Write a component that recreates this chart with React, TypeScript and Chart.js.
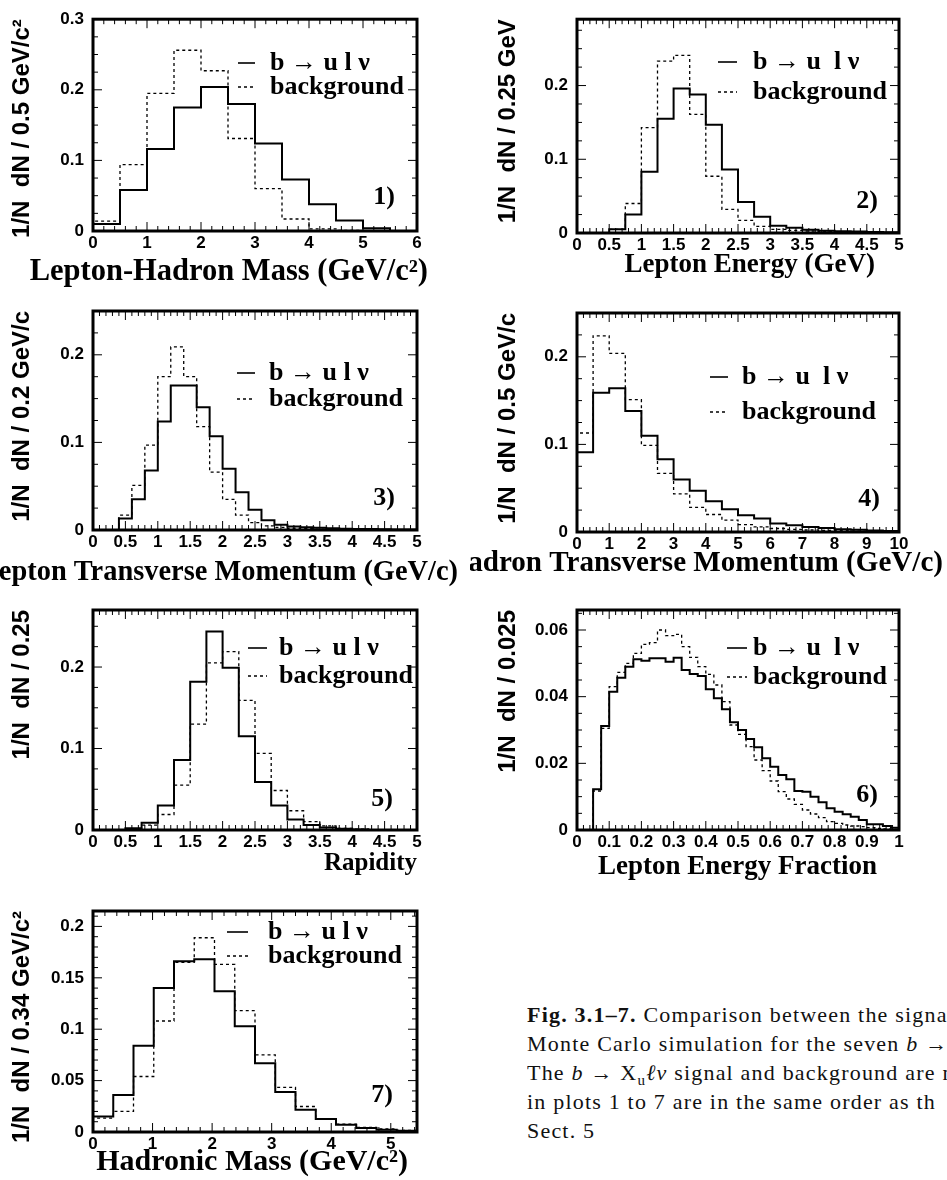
import React, { useEffect, useRef } from 'react';
import { Chart, registerables } from 'chart.js';

Chart.register(...registerables);

// ---------- DATA (bin contents) ----------
// 1) Lepton-Hadron Mass, bins of 0.5 GeV/c^2 starting at 0
const lhMassSignal = [0.010, 0.058, 0.116, 0.175, 0.204, 0.180, 0.124, 0.073, 0.038, 0.015, 0.004, 0.000];
const lhMassBackground = [0.014, 0.094, 0.195, 0.256, 0.227, 0.131, 0.060, 0.017, 0.003, 0.001, 0.000, 0.000];

// 2) Lepton Energy, bins of 0.25 GeV starting at 0
const lepEnergySignal = [0, 0, 0.005, 0.025, 0.083, 0.155, 0.196, 0.188, 0.147, 0.086, 0.042, 0.022, 0.010, 0.007, 0.0045, 0.003, 0.0025, 0.002, 0.0015, 0.001];
const lepEnergyBackground = [0, 0, 0.005, 0.040, 0.143, 0.233, 0.241, 0.161, 0.077, 0.032, 0.017, 0.009, 0.005, 0.0035, 0.0027, 0.002, 0.0015, 0.001, 0.001, 0.0005];

// 3) Lepton Transverse Momentum, bins of 0.2 GeV/c starting at 0
const lepPtSignal = [0, 0, 0.013, 0.035, 0.068, 0.124, 0.165, 0.165, 0.140, 0.107, 0.070, 0.043, 0.023, 0.011, 0.006, 0.004, 0.003, 0.0025, 0.002, 0.0015, 0.001, 0.001, 0.0008, 0.0006, 0.0005];
const lepPtBackground = [0, 0, 0.017, 0.051, 0.097, 0.175, 0.209, 0.175, 0.118, 0.066, 0.035, 0.017, 0.0085, 0.0046, 0.003, 0.002, 0.0015, 0.001, 0.001, 0.0008, 0.0006, 0.0005, 0.0004, 0.0003, 0.0002];

// 4) Hadron Transverse Momentum, bins of 0.5 GeV/c starting at 0
const hadPtSignal = [0.091, 0.159, 0.164, 0.138, 0.110, 0.083, 0.060, 0.047, 0.035, 0.026, 0.019, 0.0155, 0.0096, 0.0077, 0.0058, 0.0046, 0.003, 0.0025, 0.0018, 0.0012];
const hadPtBackground = [0.113, 0.224, 0.204, 0.151, 0.099, 0.067, 0.0435, 0.028, 0.020, 0.0135, 0.0085, 0.0058, 0.004, 0.003, 0.0023, 0.0018, 0.0014, 0.001, 0.0008, 0.0005];

// 5) Rapidity, bins of 0.25 starting at 0
const rapSignal = [0, 0, 0.002, 0.009, 0.030, 0.086, 0.182, 0.2435, 0.199, 0.115, 0.059, 0.030, 0.013, 0.006, 0.003, 0.0015, 0.0005, 0, 0, 0];
const rapBackground = [0, 0, 0.001, 0.006, 0.019, 0.055, 0.130, 0.205, 0.219, 0.159, 0.094, 0.0485, 0.0236, 0.0104, 0.005, 0.002, 0.001, 0, 0, 0];

// 6) Lepton Energy Fraction, bins of 0.025 starting at 0
const efracSignal = [0, 0, 0.0122, 0.0312, 0.0415, 0.0457, 0.049, 0.0512, 0.0508, 0.0515, 0.0515, 0.0505, 0.0517, 0.048, 0.0468, 0.0462, 0.0422, 0.0395, 0.0362, 0.0323, 0.030, 0.0273, 0.0248, 0.0215, 0.019, 0.0165, 0.0152, 0.0117, 0.0115, 0.010, 0.0083, 0.0065, 0.0055, 0.0047, 0.004, 0.003, 0.0017, 0.0017, 0.0012, 0.0007];
const efracBackground = [0, 0, 0.0117, 0.0305, 0.043, 0.0473, 0.050, 0.053, 0.0557, 0.0562, 0.060, 0.0583, 0.0587, 0.055, 0.0518, 0.049, 0.0467, 0.0435, 0.0385, 0.0315, 0.0287, 0.025, 0.021, 0.0178, 0.0147, 0.0115, 0.0093, 0.0077, 0.006, 0.0048, 0.0037, 0.0025, 0.002, 0.0015, 0.0012, 0.001, 0.0007, 0.0005, 0.0003, 0.0002];

// 7) Hadronic Mass, bins of 0.34 GeV/c^2 starting at 0
const hadMassSignal = [0.0152, 0.036, 0.084, 0.140, 0.166, 0.168, 0.137, 0.103, 0.067, 0.039, 0.0216, 0.0126, 0.0071, 0.0039, 0.0023, 0.0013];
const hadMassBackground = [0.0135, 0.020, 0.054, 0.108, 0.165, 0.189, 0.163, 0.118, 0.075, 0.0435, 0.0248, 0.0129, 0.0077, 0.0045, 0.0029, 0.0016];

const signalLabelA = 'b \u2192 u l \u03bd';
const signalLabelB = 'b \u2192 u  l \u03bd';
const backgroundLabel = 'background';

// ---------- LAYOUT ----------
const LEFT = { x: 0, w: 470, padL: 8, padR: 53, yAxisW: 85 };
const RIGHT = { x: 470, w: 477, padL: 24, padR: 48, yAxisW: 83 };

type Col = typeof LEFT;
interface PanelCfg {
  col: Col; top: number; h: number; padTop: number; padBottom: number;
  xMax: number; xStep: number; xSub: number;
  yMax: number; yStep: number; ySub: number;
  binStart: number; binWidth: number;
  signal: number[]; background: number[];
  yTitle: string; xTitle: string; xTitleSize: number; xTitleRight: number; xTitleY: number;
  legend: { x1: number; x2: number; y1: number; y2: number; textX: number };
  signalLabel: string; tag: string; tagX: number; tagY: number;
}

const panels: PanelCfg[] = [
  { col: LEFT, top: 0, h: 290, padTop: 15, padBottom: 29, xMax: 6, xStep: 1, xSub: 5, yMax: 0.3, yStep: 0.1, ySub: 4,
    binStart: 0, binWidth: 0.5, signal: lhMassSignal, background: lhMassBackground,
    yTitle: '1/N  dN / 0.5 GeV/c\u00b2', xTitle: 'Lepton-Hadron Mass (GeV/c\u00b2)', xTitleSize: 30.5, xTitleRight: 428, xTitleY: 272,
    legend: { x1: 238, x2: 255, y1: 63, y2: 87, textX: 270 }, signalLabel: signalLabelA, tag: '1)', tagX: 395, tagY: 197 },
  { col: RIGHT, top: 0, h: 290, padTop: 15, padBottom: 27, xMax: 5, xStep: 0.5, xSub: 5, yMax: 0.29, yStep: 0.1, ySub: 4,
    binStart: 0, binWidth: 0.25, signal: lepEnergySignal, background: lepEnergyBackground,
    yTitle: '1/N  dN / 0.25 GeV', xTitle: 'Lepton Energy (GeV)', xTitleSize: 27, xTitleRight: 405, xTitleY: 265,
    legend: { x1: 248, x2: 267, y1: 62, y2: 92, textX: 283 }, signalLabel: signalLabelB, tag: '2)', tagX: 408, tagY: 201 },
  { col: LEFT, top: 290, h: 300, padTop: 21, padBottom: 30, xMax: 5, xStep: 0.5, xSub: 5, yMax: 0.25, yStep: 0.1, ySub: 4,
    binStart: 0, binWidth: 0.2, signal: lepPtSignal, background: lepPtBackground,
    yTitle: '1/N  dN / 0.2 GeV/c', xTitle: 'Lepton Transverse Momentum (GeV/c)', xTitleSize: 28.4, xTitleRight: 458, xTitleY: 283,
    legend: { x1: 237, x2: 255, y1: 83, y2: 109, textX: 269 }, signalLabel: signalLabelA, tag: '3)', tagX: 395, tagY: 208 },
  { col: RIGHT, top: 290, h: 300, padTop: 23, padBottom: 28, xMax: 10, xStep: 1, xSub: 5, yMax: 0.25, yStep: 0.1, ySub: 4,
    binStart: 0, binWidth: 0.5, signal: hadPtSignal, background: hadPtBackground,
    yTitle: '1/N  dN / 0.5 GeV/c', xTitle: 'Hadron Transverse Momentum (GeV/c)', xTitleSize: 29.1, xTitleRight: 473, xTitleY: 273,
    legend: { x1: 240, x2: 258, y1: 87, y2: 122, textX: 272 }, signalLabel: signalLabelB, tag: '4)', tagX: 410, tagY: 209 },
  { col: LEFT, top: 590, h: 300, padTop: 20, padBottom: 30, xMax: 5, xStep: 0.5, xSub: 5, yMax: 0.27, yStep: 0.1, ySub: 4,
    binStart: 0, binWidth: 0.25, signal: rapSignal, background: rapBackground,
    yTitle: '1/N  dN / 0.25', xTitle: 'Rapidity', xTitleSize: 25, xTitleRight: 417, xTitleY: 274,
    legend: { x1: 248, x2: 267, y1: 58, y2: 86, textX: 279 }, signalLabel: signalLabelA, tag: '5)', tagX: 393, tagY: 209 },
  { col: RIGHT, top: 590, h: 300, padTop: 20, padBottom: 30, xMax: 1, xStep: 0.1, xSub: 5, yMax: 0.066, yStep: 0.02, ySub: 4,
    binStart: 0, binWidth: 0.025, signal: efracSignal, background: efracBackground,
    yTitle: '1/N  dN / 0.025', xTitle: 'Lepton Energy Fraction', xTitleSize: 27, xTitleRight: 407, xTitleY: 277,
    legend: { x1: 257, x2: 277, y1: 58, y2: 87, textX: 283 }, signalLabel: signalLabelB, tag: '6)', tagX: 408, tagY: 205 },
  { col: LEFT, top: 890, h: 290, padTop: 21, padBottom: 18, xMax: 5.44, xStep: 1, xSub: 5, yMax: 0.215, yStep: 0.05, ySub: 5,
    binStart: 0, binWidth: 0.34, signal: hadMassSignal, background: hadMassBackground,
    yTitle: '1/N  dN / 0.34 GeV/c\u00b2', xTitle: 'Hadronic Mass (GeV/c\u00b2)', xTitleSize: 30, xTitleRight: 408, xTitleY: 272,
    legend: { x1: 227, x2: 248, y1: 42, y2: 66, textX: 268 }, signalLabel: signalLabelA, tag: '7)', tagX: 393, tagY: 205 },
];

const SANS = "'Liberation Sans', Arial, Helvetica, sans-serif";
const SERIF = "'Liberation Serif', 'Times New Roman', Times, serif";

function toSteps(values: number[], x0: number, w: number) {
  const pts: { x: number; y: number }[] = [{ x: x0, y: 0 }];
  values.forEach((v, i) => pts.push({ x: x0 + i * w, y: v }));
  const end = x0 + values.length * w;
  pts.push({ x: end, y: values[values.length - 1] });
  pts.push({ x: end, y: 0 });
  return pts;
}

const fmt = (v: number | string) => String(Math.round(Number(v) * 10000) / 10000);

const decorPlugin = {
  id: 'decor',
  afterDraw(chart: any, _args: any, opts: any) {
    const p: PanelCfg = opts.panel;
    const { ctx, chartArea: a } = chart;
    const xs = chart.scales.x;
    const ys = chart.scales.y;
    ctx.save();
    ctx.strokeStyle = '#000';
    ctx.fillStyle = '#000';
    ctx.lineWidth = 1;
    ctx.setLineDash([]);
    const drawTicks = (scale: any, nsub: number, horizontal: boolean) => {
      const majors = scale.ticks.map((t: any) => t.value);
      if (majors.length < 2) return;
      const step = majors[1] - majors[0];
      const minor = step / nsub;
      const n = Math.floor((scale.max - scale.min) / minor + 1e-6);
      for (let i = 0; i <= n; i++) {
        const v = scale.min + i * minor;
        const len = i % nsub === 0 ? 9 : 5;
        const px = scale.getPixelForValue(v);
        ctx.beginPath();
        if (horizontal) {
          ctx.moveTo(px, a.bottom); ctx.lineTo(px, a.bottom - len);
          ctx.moveTo(px, a.top); ctx.lineTo(px, a.top + len);
        } else {
          ctx.moveTo(a.left, px); ctx.lineTo(a.left + len, px);
          ctx.moveTo(a.right, px); ctx.lineTo(a.right - len, px);
        }
        ctx.stroke();
      }
    };
    drawTicks(xs, p.xSub, true);
    drawTicks(ys, p.ySub, false);

    // frame
    ctx.lineWidth = 3;
    ctx.strokeRect(a.left, a.top, a.right - a.left, a.bottom - a.top);

    // legend
    const ds = chart.data.datasets;
    ctx.lineWidth = 2;
    ctx.strokeStyle = '#333';
    ctx.beginPath();
    ctx.moveTo(p.legend.x1, p.legend.y1); ctx.lineTo(p.legend.x2, p.legend.y1);
    ctx.stroke();
    ctx.lineWidth = 1.3;
    ctx.strokeStyle = '#000';
    ctx.setLineDash([3, 3]);
    ctx.beginPath();
    ctx.moveTo(p.legend.x1, p.legend.y2); ctx.lineTo(p.legend.x2, p.legend.y2);
    ctx.stroke();
    ctx.setLineDash([]);
    ctx.font = `bold 26px ${SERIF}`;
    ctx.textAlign = 'left';
    ctx.textBaseline = 'middle';
    ctx.fillText(ds[0].label, p.legend.textX, p.legend.y1);
    ctx.fillText(ds[1].label, p.legend.textX, p.legend.y2);

    // panel tag
    ctx.textAlign = 'right';
    ctx.fillText(p.tag, p.tagX, p.tagY);

    // x title
    ctx.font = `bold ${p.xTitleSize}px ${SERIF}`;
    ctx.fillText(p.xTitle, p.xTitleRight, p.xTitleY);
    ctx.restore();
  },
};

function Panel({ cfg }: { cfg: PanelCfg }) {
  const ref = useRef<HTMLCanvasElement>(null);
  useEffect(() => {
    const tickFont = { family: SANS, weight: 'bold' as const, size: 17 };
    const chart = new Chart(ref.current as HTMLCanvasElement, {
      type: 'line',
      data: {
        datasets: [
          { label: cfg.signalLabel, data: toSteps(cfg.signal, cfg.binStart, cfg.binWidth), borderColor: '#000', borderWidth: 2,
            stepped: 'before', pointRadius: 0, fill: false, tension: 0 },
          { label: backgroundLabel, data: toSteps(cfg.background, cfg.binStart, cfg.binWidth), borderColor: '#000', borderWidth: 1.3,
            borderDash: [3, 3], stepped: 'before', pointRadius: 0, fill: false, tension: 0 },
        ],
      },
      options: {
        animation: false,
        responsive: false,
        devicePixelRatio: 1,
        layout: { padding: { left: cfg.col.padL, right: cfg.col.padR, top: cfg.padTop, bottom: cfg.padBottom } },
        plugins: {
          legend: { display: false },
          tooltip: { enabled: false },
          // @ts-ignore
          decor: { panel: cfg },
        },
        scales: {
          x: {
            type: 'linear', min: 0, max: cfg.xMax,
            grid: { display: false, drawTicks: false }, border: { display: false },
            ticks: { stepSize: cfg.xStep, includeBounds: false, autoSkip: false, maxRotation: 0, minRotation: 0,
              padding: 2, font: tickFont, color: '#000', callback: fmt },
            afterFit: (s: any) => { s.height = 30; },
          },
          y: {
            type: 'linear', min: 0, max: cfg.yMax,
            grid: { display: false, drawTicks: false }, border: { display: false },
            ticks: { stepSize: cfg.yStep, includeBounds: false, autoSkip: false, padding: 9, font: tickFont, color: '#000', callback: fmt },
            title: { display: true, text: cfg.yTitle, align: 'end', color: '#000', padding: 0,
              font: { family: SANS, weight: 'bold', size: 24 } },
            afterFit: (s: any) => { s.width = cfg.col.yAxisW; },
          },
        },
      } as any,
      plugins: [decorPlugin],
    });
    return () => chart.destroy();
  }, [cfg]);
  return (
    <canvas
      ref={ref}
      width={cfg.col.w}
      height={cfg.h}
      style={{ position: 'absolute', left: cfg.col.x, top: cfg.top, width: cfg.col.w, height: cfg.h }}
    />
  );
}

export default function App() {
  const capLine: React.CSSProperties = { whiteSpace: 'nowrap', height: 29 };
  return (
    <div style={{ position: 'absolute', left: 0, top: 0, width: 947, height: 1180, overflow: 'hidden', background: '#fff' }}>
      {panels.map((p, i) => <Panel key={i} cfg={p} />)}
      <div style={{ position: 'absolute', left: 527, top: 1000, width: 420, overflow: 'hidden', fontFamily: SERIF,
        fontSize: 22, lineHeight: '29px', letterSpacing: '1.2px', color: '#111' }}>
        <div style={capLine}><b>Fig. 3.1–7.</b> Comparison between the signa</div>
        <div style={capLine}>Monte Carlo simulation for the seven <i>b</i> →</div>
        <div style={capLine}>The <i>b</i> → X<sub style={{ fontSize: 15, lineHeight: 0 }}>u</sub><i>ℓν</i> signal and background are n</div>
        <div style={capLine}>in plots 1 to 7 are in the same order as th</div>
        <div style={capLine}>Sect. 5</div>
      </div>
    </div>
  );
}
